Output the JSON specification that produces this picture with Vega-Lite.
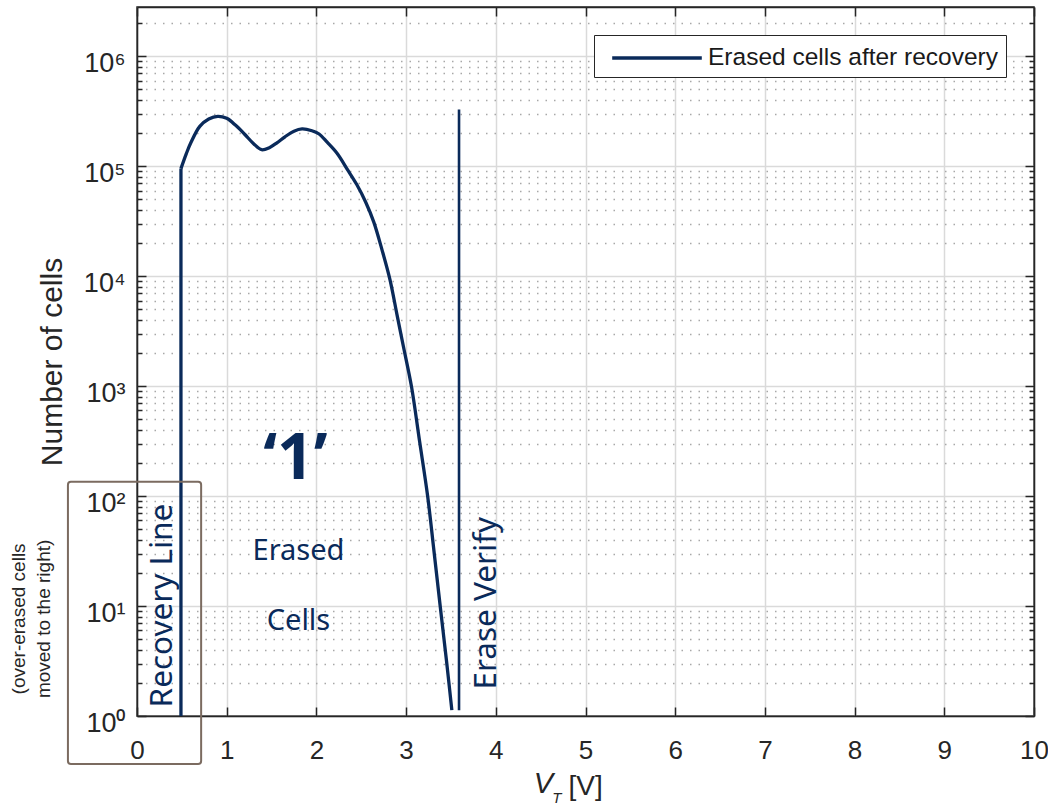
{
  "$schema": "https://vega.github.io/schema/vega-lite/v6.json",
  "width": 897,
  "height": 709,
  "autosize": {"type": "none"},
  "padding": {"left": 137, "top": 7, "right": 14, "bottom": 91},
  "background": "white",
  "config": {
    "view": {"stroke": "#262626", "strokeWidth": 1.5},
    "axis": {"labelFont": "Liberation Sans", "titleFont": "Liberation Sans", "labelColor": "#262626", "titleColor": "#262626", "domainColor": "#262626", "domainWidth": 1.5, "tickColor": "#262626", "tickWidth": 1.5}
  },
  "datasets": {
    "curve": [
      {"ord": 1, "v": 0.49, "n": 95000, "series": "Erased cells after recovery"},
      {"ord": 2, "v": 0.55, "n": 130000, "series": "Erased cells after recovery"},
      {"ord": 3, "v": 0.6, "n": 163000, "series": "Erased cells after recovery"},
      {"ord": 4, "v": 0.7, "n": 230000, "series": "Erased cells after recovery"},
      {"ord": 5, "v": 0.8, "n": 268000, "series": "Erased cells after recovery"},
      {"ord": 6, "v": 0.9, "n": 284000, "series": "Erased cells after recovery"},
      {"ord": 7, "v": 1.0, "n": 272000, "series": "Erased cells after recovery"},
      {"ord": 8, "v": 1.1, "n": 235000, "series": "Erased cells after recovery"},
      {"ord": 9, "v": 1.2, "n": 195000, "series": "Erased cells after recovery"},
      {"ord": 10, "v": 1.3, "n": 160000, "series": "Erased cells after recovery"},
      {"ord": 11, "v": 1.39, "n": 141000, "series": "Erased cells after recovery"},
      {"ord": 12, "v": 1.48, "n": 148000, "series": "Erased cells after recovery"},
      {"ord": 13, "v": 1.56, "n": 163000, "series": "Erased cells after recovery"},
      {"ord": 14, "v": 1.65, "n": 185000, "series": "Erased cells after recovery"},
      {"ord": 15, "v": 1.75, "n": 208000, "series": "Erased cells after recovery"},
      {"ord": 16, "v": 1.84, "n": 218000, "series": "Erased cells after recovery"},
      {"ord": 17, "v": 1.95, "n": 210000, "series": "Erased cells after recovery"},
      {"ord": 18, "v": 2.03, "n": 196000, "series": "Erased cells after recovery"},
      {"ord": 19, "v": 2.12, "n": 165000, "series": "Erased cells after recovery"},
      {"ord": 20, "v": 2.23, "n": 131000, "series": "Erased cells after recovery"},
      {"ord": 21, "v": 2.35, "n": 92000, "series": "Erased cells after recovery"},
      {"ord": 22, "v": 2.45, "n": 68000, "series": "Erased cells after recovery"},
      {"ord": 23, "v": 2.55, "n": 47000, "series": "Erased cells after recovery"},
      {"ord": 24, "v": 2.64, "n": 31000, "series": "Erased cells after recovery"},
      {"ord": 25, "v": 2.73, "n": 17500, "series": "Erased cells after recovery"},
      {"ord": 26, "v": 2.82, "n": 9300, "series": "Erased cells after recovery"},
      {"ord": 27, "v": 2.9, "n": 4400, "series": "Erased cells after recovery"},
      {"ord": 28, "v": 2.97, "n": 2290, "series": "Erased cells after recovery"},
      {"ord": 29, "v": 3.06, "n": 990, "series": "Erased cells after recovery"},
      {"ord": 30, "v": 3.15, "n": 316, "series": "Erased cells after recovery"},
      {"ord": 31, "v": 3.24, "n": 100, "series": "Erased cells after recovery"},
      {"ord": 32, "v": 3.31, "n": 32, "series": "Erased cells after recovery"},
      {"ord": 33, "v": 3.38, "n": 10, "series": "Erased cells after recovery"},
      {"ord": 34, "v": 3.45, "n": 3.2, "series": "Erased cells after recovery"},
      {"ord": 35, "v": 3.51, "n": 1.13, "series": "Erased cells after recovery"}
    ],
    "verticals": [
      {"name": "Recovery Line", "v": 0.49, "n": 1, "n2": 95000, "w": "thick"},
      {"name": "Erase Verify", "v": 3.59, "n": 1.13, "n2": 327000, "w": "thin"}
    ],
    "box": [{"x1": -0.77, "x2": 0.715, "y1": 0.366, "y2": 135}],
    "notes": [
      {"kind": "one", "label": "‘1’", "v": 1.765, "n": 214},
      {"kind": "body", "label": "Erased", "v": 1.8, "n": 26.3},
      {"kind": "body", "label": "Cells", "v": 1.8, "n": 6.06},
      {"kind": "vert", "label": "Recovery Line", "v": 0.391, "n": 10.1},
      {"kind": "vert", "label": "Erase Verify", "v": 4.0, "n": 10.6},
      {"kind": "side", "label": "(over-erased cells\nmoved to the right)", "v": -1.31, "n": 7.64},
      {"kind": "xv", "label": "V", "v": 4.53, "n": 0.1995},
      {"kind": "xsub", "label": "T", "v": 4.68, "n": 0.163},
      {"kind": "xunit", "label": "[V]", "v": 4.81, "n": 0.191}
    ]
  },
  "resolve": {"axis": {"x": "independent", "y": "independent"}},
  "layer": [
    {
      "data": {"name": "curve"},
      "mark": {"type": "line", "strokeWidth": 3.3, "strokeJoin": "round", "interpolate": "catmull-rom"},
      "encoding": {
        "x": {"field": "v", "type": "quantitative", "scale": {"domain": [0, 10], "nice": false, "zero": false},
          "axis": {"orient": "bottom", "values": [0, 1, 2, 3, 4, 5, 6, 7, 8, 9, 10], "format": "d", "labelFontSize": 26, "labelPadding": 30, "labelFlush": false, "labelOverlap": false, "tickSize": -9, "grid": true, "gridColor": "#dadada", "gridWidth": 1.5, "title": null}},
        "y": {"field": "n", "type": "quantitative", "scale": {"type": "log", "domain": [1, 2800000], "nice": false},
          "axis": {"orient": "left", "values": [1, 10, 100, 1000, 10000, 100000, 1000000], "labelExpr": "'10' + ['⁰','¹','²','³','⁴','⁵','⁶'][round(log(datum.value)/LN10)]", "labelFontSize": 27, "labelPadding": 21, "labelOffset": 7, "labelOverlap": false, "labelFlush": false, "tickSize": -9, "grid": true, "gridColor": "#dadada", "gridWidth": 1.5, "title": "Number of cells", "titleFontSize": 30, "titleFontWeight": "normal", "titleX": -70}},
        "order": {"field": "ord", "type": "quantitative"},
        "color": {"field": "series", "type": "nominal", "scale": {"range": ["#0a2a5a"]},
          "legend": {"title": null, "orient": "top-right", "offset": 28, "padding": 7, "strokeColor": "#262626", "fillColor": "white", "labelFont": "Liberation Sans", "labelFontSize": 24.5, "labelColor": "#1a1a1a", "labelLimit": 400, "symbolType": "M-3.2,0H3.2", "symbolSize": 784, "symbolStrokeWidth": 3.3, "symbolOffset": 40, "labelOffset": 35, "symbolStrokeColor": "#0a2a5a"}}
      }
    },
    {
      "data": {"name": "verticals"},
      "mark": {"type": "rule", "color": "#0a2a5a"},
      "encoding": {
        "x": {"field": "v", "type": "quantitative", "scale": {"domain": [0, 10], "nice": false, "zero": false},
          "axis": {"orient": "top", "values": [0, 1, 2, 3, 4, 5, 6, 7, 8, 9, 10], "labels": false, "tickSize": -9, "grid": false, "title": null}},
        "y": {"field": "n", "type": "quantitative", "scale": {"type": "log", "domain": [1, 2800000], "nice": false},
          "axis": {"orient": "left", "values": [2, 3, 4, 5, 6, 7, 8, 9, 20, 30, 40, 50, 60, 70, 80, 90, 200, 300, 400, 500, 600, 700, 800, 900, 2000, 3000, 4000, 5000, 6000, 7000, 8000, 9000, 20000, 30000, 40000, 50000, 60000, 70000, 80000, 90000, 200000, 300000, 400000, 500000, 600000, 700000, 800000, 900000, 2000000], "labels": false, "domain": false, "tickSize": -5, "grid": true, "gridColor": "#a8a8a8", "gridWidth": 1.3, "gridDash": [1.5, 7], "title": null}},
        "y2": {"field": "n2"},
        "strokeWidth": {"field": "w", "type": "nominal", "scale": {"domain": ["thick", "thin"], "range": [3.3, 2.6]}, "legend": null}
      }
    },
    {
      "data": {"name": "box"},
      "mark": {"type": "rect", "fill": "transparent", "stroke": "#7b6b60", "strokeWidth": 2, "cornerRadius": 3},
      "encoding": {
        "x": {"field": "x1", "type": "quantitative", "scale": {"domain": [0, 10], "nice": false, "zero": false}, "axis": null},
        "x2": {"field": "x2"},
        "y": {"field": "y1", "type": "quantitative", "scale": {"type": "log", "domain": [1, 2800000], "nice": false},
          "axis": {"orient": "right", "values": [1, 10, 100, 1000, 10000, 100000, 1000000], "labels": false, "tickSize": -9, "grid": false, "title": null}},
        "y2": {"field": "y2"}
      }
    },
    {
      "data": {"name": "notes"},
      "transform": [{"filter": "datum.kind == 'body'"}],
      "mark": {"type": "text", "font": "Noto Sans", "fontSize": 29, "color": "#0a2a5a", "align": "center", "baseline": "alphabetic"},
      "encoding": {
        "x": {"field": "v", "type": "quantitative", "scale": {"domain": [0, 10], "nice": false, "zero": false}, "axis": null},
        "y": {"field": "n", "type": "quantitative", "scale": {"type": "log", "domain": [1, 2800000], "nice": false},
          "axis": {"orient": "right", "values": [2, 3, 4, 5, 6, 7, 8, 9, 20, 30, 40, 50, 60, 70, 80, 90, 200, 300, 400, 500, 600, 700, 800, 900, 2000, 3000, 4000, 5000, 6000, 7000, 8000, 9000, 20000, 30000, 40000, 50000, 60000, 70000, 80000, 90000, 200000, 300000, 400000, 500000, 600000, 700000, 800000, 900000, 2000000], "labels": false, "domain": false, "tickSize": -5, "grid": false, "title": null}},
        "text": {"field": "label"}
      }
    },
    {
      "data": {"name": "notes"},
      "transform": [{"filter": "datum.kind == 'one'"}],
      "mark": {"type": "text", "font": "Noto Sans", "fontSize": 64, "fontWeight": "bold", "color": "#0a2a5a", "align": "center", "baseline": "middle"},
      "encoding": {
        "x": {"field": "v", "type": "quantitative", "scale": {"domain": [0, 10], "nice": false, "zero": false}, "axis": null},
        "y": {"field": "n", "type": "quantitative", "scale": {"type": "log", "domain": [1, 2800000], "nice": false}, "axis": null},
        "text": {"field": "label"}
      }
    },
    {
      "data": {"name": "notes"},
      "transform": [{"filter": "datum.kind == 'vert'"}],
      "mark": {"type": "text", "font": "Noto Sans", "fontSize": 31.5, "color": "#0a2a5a", "align": "center", "baseline": "alphabetic", "angle": 270},
      "encoding": {
        "x": {"field": "v", "type": "quantitative", "scale": {"domain": [0, 10], "nice": false, "zero": false}, "axis": null},
        "y": {"field": "n", "type": "quantitative", "scale": {"type": "log", "domain": [1, 2800000], "nice": false}, "axis": null},
        "text": {"field": "label"}
      }
    },
    {
      "data": {"name": "notes"},
      "transform": [{"filter": "datum.kind == 'side'"}],
      "mark": {"type": "text", "font": "Liberation Sans", "fontSize": 19, "color": "#262626", "align": "center", "baseline": "middle", "angle": 270, "lineBreak": "\n", "lineHeight": 25},
      "encoding": {
        "x": {"field": "v", "type": "quantitative", "scale": {"domain": [0, 10], "nice": false, "zero": false}, "axis": null},
        "y": {"field": "n", "type": "quantitative", "scale": {"type": "log", "domain": [1, 2800000], "nice": false}, "axis": null},
        "text": {"field": "label"}
      }
    },
    {
      "data": {"name": "notes"},
      "transform": [{"filter": "datum.kind == 'xv'"}],
      "mark": {"type": "text", "font": "Liberation Sans", "fontSize": 29, "fontStyle": "italic", "color": "#262626", "align": "center", "baseline": "alphabetic"},
      "encoding": {
        "x": {"field": "v", "type": "quantitative", "scale": {"domain": [0, 10], "nice": false, "zero": false}, "axis": null},
        "y": {"field": "n", "type": "quantitative", "scale": {"type": "log", "domain": [1, 2800000], "nice": false}, "axis": null},
        "text": {"field": "label"}
      }
    },
    {
      "data": {"name": "notes"},
      "transform": [{"filter": "datum.kind == 'xsub'"}],
      "mark": {"type": "text", "font": "Liberation Sans", "fontSize": 15, "fontStyle": "italic", "color": "#262626", "align": "center", "baseline": "alphabetic"},
      "encoding": {
        "x": {"field": "v", "type": "quantitative", "scale": {"domain": [0, 10], "nice": false, "zero": false}, "axis": null},
        "y": {"field": "n", "type": "quantitative", "scale": {"type": "log", "domain": [1, 2800000], "nice": false}, "axis": null},
        "text": {"field": "label"}
      }
    },
    {
      "data": {"name": "notes"},
      "transform": [{"filter": "datum.kind == 'xunit'"}],
      "mark": {"type": "text", "font": "Liberation Sans", "fontSize": 28, "color": "#262626", "align": "left", "baseline": "alphabetic"},
      "encoding": {
        "x": {"field": "v", "type": "quantitative", "scale": {"domain": [0, 10], "nice": false, "zero": false}, "axis": null},
        "y": {"field": "n", "type": "quantitative", "scale": {"type": "log", "domain": [1, 2800000], "nice": false}, "axis": null},
        "text": {"field": "label"}
      }
    }
  ]
}
